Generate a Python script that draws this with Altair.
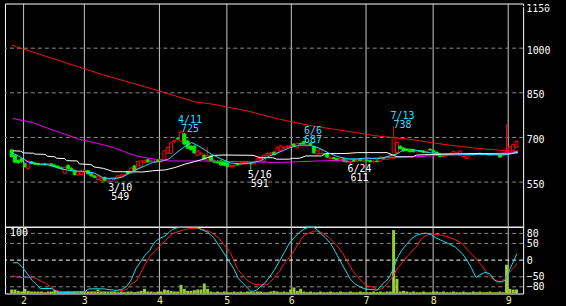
import altair as alt
import pandas as pd

# ---------------- data ----------------
opens = [658,640,622,628,612,596,618,614,612,610,
         612,609,611,606,603,598,580,605,595,588,
         574,576,586,588,578,570,558,556,566,553,
         552,560,563,568,572,585,580,604,596,603,
         616,625,620,617,622,618,625,648,646,686,
         697,688,712,688,670,671,640,644,640,625,
         638,621,620,621,618,612,602,604,611,610,
         612,615,614,612,620,628,620,640,644,650,
         648,655,664,668,671,678,665,680,686,672,
         680,670,645,646,644,645,630,632,628,624,
         628,620,616,626,620,628,620,624,622,618,
         620,620,630,626,632,630,650,670,664,660,
         656,658,652,656,654,650,660,656,650,640,
         636,640,644,642,646,640,636,630,640,646,
         644,646,644,646,640,645,643,640,640,645,
         648,655,668]
highs = [662,643,626,632,616,624,621,618,616,614,
         615,614,613,612,606,602,603,610,600,592,
         590,592,592,591,582,574,572,566,568,562,
         566,568,573,576,578,588,600,608,622,625,
         625,628,626,625,628,630,656,670,684,692,
         700,725,716,692,675,674,657,653,645,668,
         642,626,624,625,622,616,610,610,614,620,
         622,620,617,620,630,638,645,650,652,654,
         672,674,672,675,676,680,682,682,687,686,
         684,673,660,662,648,648,636,634,631,630,
         631,624,622,630,626,630,626,628,626,624,
         626,636,634,638,646,738,690,674,668,664,
         660,662,656,658,658,656,664,660,654,644,
         644,648,650,656,650,656,648,642,646,648,
         648,650,648,648,648,648,648,642,650,745,
         672,680,690]
lows = [632,614,612,615,598,590,610,608,606,604,
        606,605,603,600,596,592,576,593,588,572,
        572,574,583,576,568,564,556,553,552,550,
        549,556,560,565,570,576,578,586,594,600,
        614,615,616,615,618,616,622,644,644,680,
        692,685,675,662,655,645,638,640,625,622,
        620,614,612,604,604,598,598,600,605,606,
        608,610,591,608,618,624,618,636,642,640,
        645,652,660,664,668,668,662,676,675,670,
        674,645,642,644,640,630,626,626,620,620,
        618,616,611,618,616,620,617,620,616,614,
        616,617,626,624,628,628,646,660,652,654,
        650,650,648,650,648,646,656,650,644,634,
        632,636,640,640,642,638,634,628,636,640,
        640,642,640,642,638,640,640,632,638,643,
        646,652,665]
closes = [636,617,615,619,602,620,612,610,609,611,
          608,612,605,602,598,595,600,596,592,575,
          586,585,590,578,571,566,570,563,556,560,
          564,566,571,574,575,578,597,590,620,621,
          622,618,621,619,620,626,655,666,682,690,
          695,718,678,664,660,648,655,648,628,638,
          622,617,615,608,606,602,606,606,608,614,
          616,618,611,618,628,634,640,646,648,642,
          664,671,666,670,672,670,680,678,678,684,
          676,648,655,660,645,634,632,628,622,628,
          620,618,620,620,622,622,624,622,618,620,
          619,634,628,636,642,700,683,662,655,656,
          652,652,654,652,650,654,658,652,646,636,
          640,645,646,652,648,654,645,638,642,642,
          646,644,646,644,645,643,646,634,648,652,
          668,676,686]
volume = [6,6,4,3,7,4,3,3,3,3,
          2,3,3,5,3,2,3,4,2,3,
          2,3,2,3,3,3,6,4,3,2,
          3,3,2,3,2,3,3,2,3,4,
          7,3,3,2,3,3,6,5,4,3,
          3,13,7,4,4,5,6,6,15,7,
          3,2,3,2,3,2,2,3,2,3,
          2,3,3,2,3,3,2,2,3,4,
          3,2,3,2,6,9,4,7,3,2,
          3,2,2,3,2,2,3,2,2,3,
          2,2,3,2,2,3,2,2,2,3,
          2,3,2,3,3,95,22,3,4,3,
          2,3,2,2,3,2,2,3,3,2,
          3,2,2,3,2,2,3,2,2,3,
          2,3,2,2,3,2,2,3,2,43,
          7,6,6]

# moving averages (day index, price)
ma_cyan_idx = [0, 2.1, 5.1, 8, 11, 15.1, 18, 21.9, 24.8, 27.7, 30.7, 33.6, 36.6, 39.5, 42.4,
               45.4, 47.4, 49.2, 51.9, 54.2, 57.1, 60.1, 63, 66, 68.9, 71.9, 74.8, 77.7, 80.7,
               83.6, 86.6, 89.5, 92.4, 95.4, 98.3, 101.3, 104.2, 107.1, 110, 113, 116, 118,
               119.8, 122.7, 125.7, 129.8, 133.6, 137.4, 142.4, 147.4, 150.4, 152.4]
ma_cyan_val = [649, 638, 617, 611, 608, 594, 588, 586, 581, 564, 561, 568, 588, 601, 616,
               621, 628, 645, 668, 683, 666, 644, 628, 614, 611, 614, 621, 638, 651,
               665, 674, 674, 665, 648, 635, 628, 628, 631, 628, 635, 645, 658,
               661, 655, 649, 645, 645, 643, 643, 641, 645, 655]
ma_white_idx = [0.4, 2.7, 3.6, 6.6, 7.1, 10.1, 10.7, 13, 13.6, 16, 16.6, 19.8, 20.4, 23.9, 24.8,
                27.7, 30.7, 39.5, 42.4, 46.3, 49.2, 52.1, 55.1, 57.1, 61, 63.9, 72.7, 74.8, 78.6,
                79.8, 83.6, 84.5, 86.6, 88.6, 93.3, 94.5, 100.4, 104.2, 113, 116, 120.9, 121.8,
                127.7, 139.5, 149.2, 152.4]
ma_white_val = [655, 654, 648, 647, 644, 643, 637, 635, 630, 629, 622, 621, 611, 609, 601,
                596, 585, 584, 588, 591, 599, 610, 619, 625, 640, 641, 640, 632, 632,
                627, 627, 630, 630, 638, 638, 646, 646, 649, 649, 635, 635, 641,
                643, 646, 644, 649]
ma_magenta_idx = [0.4, 6.3, 11.6, 20.4, 27.7, 30.7, 37.4, 42.4, 47.4, 57.1, 66, 80.7, 92.4,
                  98.3, 110, 119.8, 139.5, 152.4]
ma_magenta_val = [764, 750, 728, 694, 675, 666, 638, 628, 621, 621, 619, 616, 621,
                  623, 631, 635, 644, 649]
ma_red_idx = [0, 13, 27.7, 42.4, 55.1, 61, 71, 80.7, 90.4, 100.4, 110, 119.8, 129.8, 139.5,
              149.2, 152.4]
ma_red_val = [1010, 963, 910, 863, 820, 811, 789, 761, 739, 722, 705, 694, 677, 664,
              655, 653]

# oscillators (day index, value)
osc_cyan_idx = [0.4, 1.9, 3.3, 4.8, 6.3, 7.7, 8.6, 12.1, 13.0, 14.5,
                21.9, 23.3, 27.7, 30.7, 32.1, 33.6, 34.8, 36.0, 37.4, 38.6,
                40.1, 41.6, 42.4, 43.3, 44.5, 46.0, 47.4, 48.3, 49.8, 51.3,
                55.7, 57.1, 59.2, 61.0, 63.0, 65.1, 66.9, 68.3, 69.8, 71.0,
                71.9, 72.7, 73.9, 74.8, 76.3, 77.7, 79.2, 80.7, 82.1, 83.6,
                85.1, 86.6, 88.0, 89.5, 91.0, 91.9, 93.0, 94.5, 96.0, 97.4,
                98.9, 100.4, 101.9, 103.3, 104.8, 106.6, 108.6, 110.0, 111.6, 113.0,
                113.9, 115.1, 116.0, 117.4, 118.9, 120.4, 121.8, 123.3, 124.8, 126.3,
                127.7, 129.8, 131.6, 133.6, 135.7, 137.2, 138.6, 139.8, 141.0, 142.4,
                143.9, 145.1, 146.3, 147.8, 148.9, 149.8, 150.7, 152.1]
osc_cyan_val = [-8, -8, -22, -42, -62, -75, -85, -85, -92, -97,
                -95, -86, -86, -90, -90, -86, -77, -59, -26, -8,
                14, 29, 44, 56, 65, 71, 83, 92, 97, 98,
                98, 92, 83, 65, 35, 2, -26, -56, -71, -84,
                -92, -94, -89, -80, -68, -50, -28, -2, 23, 50,
                68, 82, 93, 99, 98, 92, 80, 67, 50, 26,
                -2, -29, -56, -71, -80, -87, -88, -90, -72, -60,
                -47, -22, 4, 29, 47, 64, 74, 79, 81, 76,
                67, 57, 49, 39, 19, -2, -27, -52, -44, -37,
                -40, -57, -65, -65, -57, -32, -12, 19]
osc_red_idx = [0.4, 1.9, 6.3, 7.1, 8.6, 10.1, 11.6, 13.0, 14.5, 30.7,
               33.6, 34.8, 36.0, 37.4, 38.6, 40.1, 41.6, 43.0, 44.5, 46.3,
               48.3, 50.4, 52.1, 54.2, 56.3, 58.0, 60.1, 62.1, 63.9, 66.0,
               68.0, 69.5, 71.0, 72.7, 73.9, 76.9, 77.7, 79.2, 80.7, 82.1,
               83.6, 85.1, 86.6, 88.0, 89.5, 91.0, 92.4, 93.9, 95.4, 96.9,
               98.3, 99.8, 101.3, 102.7, 104.2, 105.7, 107.1, 109.2, 110.0, 111.6,
               113.0, 114.5, 116.0, 118.0, 119.8, 121.8, 123.3, 124.8, 126.3, 127.7,
               129.8, 131.6, 133.6, 135.7, 137.4, 139.5, 141.6, 143.3, 145.4, 147.4,
               148.9, 149.8, 151.3, 152.1]
osc_red_val = [-47, -52, -52, -53, -62, -69, -79, -89, -94, -94,
               -91, -86, -71, -64, -44, -14, 11, 26, 41, 59,
               79, 86, 92, 95, 95, 91, 83, 69, 47, 20,
               -27, -44, -61, -71, -74, -74, -67, -52, -32, -10,
               8, 29, 54, 74, 81, 87, 87, 79, 69, 54,
               39, 19, -7, -32, -50, -67, -77, -82, -89, -85,
               -72, -52, -27, -2, 19, 39, 64, 74, 79, 77,
               74, 69, 61, 49, 29, 8, -17, -42, -62, -64,
               -52, -37, -22, -10]

month_lines = [3.6, 21.9, 44.5, 64.8, 84.2, 106.7, 126.9, 149.5]
month_labels = ["2", "3", "4", "5", "6", "7", "8", "9"]

price_top_label = ["1150"]
price_ticks = [1000, 850, 700, 550]
price_grid = [1000, 850, 700, 550]
osc_ticks = [80, 50, 0, -50, -80]
osc_grid_gray = [80, 50, -50, -80]
osc_grid_white = [0]
sub_corner_label = ["100"]

ann_idx = [30, 51, 72, 88, 102, 115]
ann_date = ["3/10", "4/11", "5/16", "6/6", "6/24", "7/13"]
ann_val = [549, 725, 591, 687, 611, 738]
ann_kind = ["low", "high", "low", "high", "low", "high"]

# ---------------- chart ----------------
N = len(closes)
W, H_MAIN, H_SUB = 520, 224, 67
FONT = "DejaVu Sans Mono"
RED, GREEN = "#ff0000", "#00ee00"

candles = pd.DataFrame({"i": list(range(N)), "o": opens, "h": highs, "l": lows, "c": closes})
vol_df = pd.DataFrame({"i": list(range(N)), "vol": volume})
months = pd.DataFrame({"p": month_lines, "m": month_labels})
ann = pd.DataFrame({"i": ann_idx, "date": ann_date, "val": ann_val, "kind": ann_kind})


def line_df(ix, vals):
    return pd.DataFrame({"i": ix, "v": vals})


xscale = alt.Scale(domain=[-0.5, N - 0.5], nice=False, zero=False)
yscale_main = alt.Scale(domain=[400, 1150], nice=False, zero=False)
yscale_sub = alt.Scale(domain=[-100, 100], nice=False, zero=False)

label_expr = " : ".join(
    f"abs(datum.value - {p}) < 0.05 ? '{m}'" for p, m in zip(month_lines, month_labels)
) + " : ''"

x_sub_axis = alt.Axis(values=month_lines, labelExpr=label_expr, ticks=False, domain=False,
                      grid=False, title=None, labelColor="#eeee99", labelFont=FONT,
                      labelFontSize=10, labelPadding=2, labelFlush=False, labelOverlap=False,
                      minExtent=11, maxExtent=11)

y_main_axis = alt.Axis(orient="right", values=price_ticks, format="d", title=None, ticks=False,
                       domain=False, grid=False, labelColor="white", labelFont=FONT,
                       labelFontSize=10, labelPadding=3, labelOffset=2, labelBound=False,
                       labelAlign="left", labelBaseline="middle", minExtent=42, maxExtent=42)
y_sub_axis = alt.Axis(orient="right", values=osc_ticks, format="d", title=None, ticks=False,
                      domain=False, grid=False, labelColor="white", labelFont=FONT,
                      labelFontSize=10, labelPadding=3, labelBound=False,
                      labelAlign="left", labelBaseline="middle", minExtent=42, maxExtent=42)


def XM(f):
    return alt.X(f, type="quantitative", scale=xscale, axis=None)


def XS(f):
    return alt.X(f, type="quantitative", scale=xscale, axis=x_sub_axis)


def YM(f):
    return alt.Y(f, type="quantitative", scale=yscale_main, axis=y_main_axis)


def YS(f):
    return alt.Y(f, type="quantitative", scale=yscale_sub, axis=y_sub_axis)


up = "datum.c >= datum.o"

# main panel
m_vlines = alt.Chart(months).mark_rule(color="#c8c8c8", strokeWidth=1).encode(x=XM("p"))
m_grid = alt.Chart(pd.DataFrame({"v": price_grid})).mark_rule(
    color="#8a8a8a", strokeDash=[4, 3], strokeWidth=1).encode(y=YM("v"))
wicks = alt.Chart(candles).mark_rule(strokeWidth=1).encode(
    x=XM("i"), y=YM("l"), y2="h:Q",
    color=alt.condition(up, alt.value(RED), alt.value(GREEN)))
bodies = alt.Chart(candles).mark_bar(size=3, strokeWidth=1).encode(
    x=XM("i"), y=YM("o"), y2="c:Q",
    fill=alt.condition(up, alt.value("black"), alt.value(GREEN)),
    stroke=alt.condition(up, alt.value(RED), alt.value(GREEN)))


def ma_line(ix, vals, color):
    return alt.Chart(line_df(ix, vals)).mark_line(color=color, strokeWidth=1).encode(
        x=XM("i"), y=YM("v"))


ma_layers = [
    ma_line(ma_red_idx, ma_red_val, "#f01414"),
    ma_line(ma_magenta_idx, ma_magenta_val, "#ee00ee"),
    ma_line(ma_white_idx, ma_white_val, "#ffffff"),
    ma_line(ma_cyan_idx, ma_cyan_val, "#22ddff"),
]

hi = alt.Chart(ann).transform_filter("datum.kind == 'high'")
lo = alt.Chart(ann).transform_filter("datum.kind == 'low'")
txt = dict(font=FONT, fontSize=10, align="center", baseline="alphabetic", dx=9)
ann_layers = [
    hi.mark_text(color="#33ddff", dy=-7.5, **txt).encode(x=XM("i"), y=YM("val"), text="date:N"),
    hi.mark_text(color="#33ddff", dy=1.5, **txt).encode(
        x=XM("i"), y=YM("val"), text=alt.Text("val:Q", format="d")),
    lo.mark_text(color="white", dy=8.3, **txt).encode(x=XM("i"), y=YM("val"), text="date:N"),
    lo.mark_text(color="white", dy=17.3, **txt).encode(
        x=XM("i"), y=YM("val"), text=alt.Text("val:Q", format="d")),
]

top_lbl = alt.Chart(pd.DataFrame({"t": price_top_label})).mark_text(
    font=FONT, fontSize=10, color="white", align="left", baseline="middle").encode(
    x=alt.value(W + 3), y=alt.value(5), text="t:N")

# black spacer so the page is exactly 566 px wide
m_spacer = alt.Chart(months).mark_rule(color="black", strokeWidth=1).encode(
    x=alt.value(W), x2=alt.value(561.5), y=alt.value(3))

main = alt.layer(m_vlines, m_grid, wicks, bodies, *ma_layers, *ann_layers, top_lbl,
                 m_spacer).properties(width=W, height=H_MAIN)

# sub panel
s_vlines = alt.Chart(months).mark_rule(color="#c8c8c8", strokeWidth=1).encode(x=XS("p"))
s_grid_g = alt.Chart(pd.DataFrame({"v": osc_grid_gray})).mark_rule(
    color="#8a8a8a", strokeDash=[4, 3], strokeWidth=1).encode(y=YS("v"))
s_grid_w = alt.Chart(pd.DataFrame({"v": osc_grid_white})).mark_rule(
    color="white", strokeDash=[4, 3], strokeWidth=1).encode(y=YS("v"))
vol_bars = alt.Chart(vol_df).transform_calculate(
    vy="datum.vol * 2 - 100", base="-100").mark_bar(size=3, color="#99cc33").encode(
    x=XS("i"), y=YS("vy"), y2="base:Q")
osc_c = alt.Chart(line_df(osc_cyan_idx, osc_cyan_val)).mark_line(
    color="#11e0f0", strokeWidth=1).encode(x=XS("i"), y=YS("v"))
osc_r = alt.Chart(line_df(osc_red_idx, osc_red_val)).mark_line(
    color="#ff1a1a", strokeWidth=1).encode(x=XS("i"), y=YS("v"))
lbl100 = alt.Chart(pd.DataFrame({"t": sub_corner_label})).mark_text(
    font=FONT, fontSize=10, color="white", align="left", baseline="middle").encode(
    x=alt.value(5), y=alt.value(6), text="t:N")

sub = alt.layer(s_vlines, s_grid_g, s_grid_w, vol_bars, osc_r, osc_c, lbl100).properties(
    width=W, height=H_SUB)

chart = alt.vconcat(main, sub, spacing=0, bounds="flush").properties(
    background="black",
    padding={"left": 4, "top": 2, "right": 0, "bottom": 0},
).configure_view(stroke="white", strokeWidth=1)

chart.save("out.html", embed_options={"renderer": "svg", "actions": False})
